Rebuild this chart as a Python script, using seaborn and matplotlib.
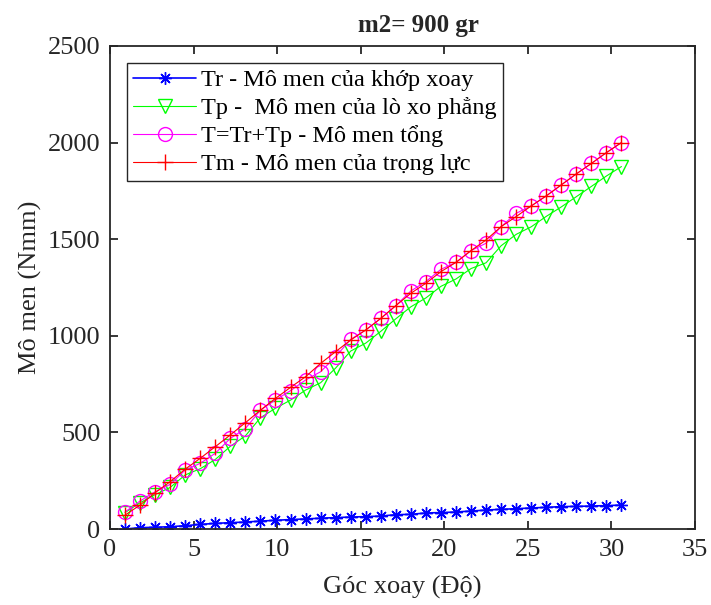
import matplotlib
matplotlib.use("Agg")
import matplotlib.pyplot as plt
import seaborn as sns
import pandas as pd

# Rotation angle (degrees)
goc = [0.9, 1.8, 2.7, 3.6, 4.5, 5.4, 6.3, 7.2, 8.1, 9.0,
       9.9, 10.8, 11.7, 12.6, 13.5, 14.4, 15.3, 16.2, 17.1, 18.0,
       18.9, 19.8, 20.7, 21.6, 22.5, 23.4, 24.3, 25.2, 26.1, 27.0,
       27.9, 28.8, 29.7, 30.6]

# Joint moment Tr (Nmm)
tr = [0, 7, 9, 12, 17, 24, 29, 33, 36, 41,
      45, 49, 52, 56, 59, 62, 64, 67, 74, 76,
      83, 85, 88, 93, 98, 102, 105, 109, 112, 116,
      117, 119, 121, 124]

# Flat spring moment Tp (Nmm)
tp = [85, 136, 178, 215, 280, 312, 360, 428, 482, 576,
      625, 667, 719, 757, 833, 921, 962, 1023, 1088, 1150,
      1196, 1256, 1294, 1348, 1378, 1466, 1525, 1564, 1618, 1667,
      1720, 1773, 1827, 1876]

# Total moment T = Tr + Tp (Nmm)
t_tong = [88, 145, 193, 231, 305, 340, 392, 469, 520, 615,
          668, 716, 771, 814, 892, 982, 1030, 1090, 1156, 1232,
          1281, 1344, 1380, 1441, 1479, 1565, 1634, 1672, 1724, 1781,
          1838, 1892, 1948, 2000]

# Gravity moment Tm (Nmm)
tm = [72, 124, 188, 245, 310, 366, 426, 487, 550, 615,
      676, 733, 788, 857, 918, 978, 1030, 1090, 1156, 1220,
      1272, 1332, 1380, 1441, 1496, 1565, 1617, 1672, 1724, 1781,
      1838, 1892, 1948, 2000]

labels = ["Tr - Mô men của khớp xoay",
          "Tp -  Mô men của lò xo phẳng",
          "T=Tr+Tp - Mô men tổng",
          "Tm - Mô men của trọng lực"]

sns.set_style("white")
plt.rcParams["font.family"] = ["Liberation Serif", "DejaVu Serif"]

fig = plt.figure(figsize=(7.11, 6.05), dpi=100)
ax = fig.add_axes([0.1547, 0.1256, 0.8228, 0.7984])

axis_col = (0.15, 0.15, 0.15)

series = [
    (tr, labels[0], (0, 0, 1), (8, 2, 0), 1.2, 9),
    (tp, labels[1], (0, 1, 0), "v", 0.8, 10),
    (t_tong, labels[2], (1, 0, 1), "o", 0.8, 10),
    (tm, labels[3], (1, 0, 0), "+", 0.8, 11),
]

for vals, lab, col, mk, lw, ms in series:
    df = pd.DataFrame({"x": goc, "y": vals})
    sns.lineplot(data=df, x="x", y="y", ax=ax, color=col, label=lab,
                 marker=mk, markersize=ms, markerfacecolor="none",
                 markeredgecolor=col, markeredgewidth=1.0, linewidth=lw)

ax.set_xlim(0, 35)
ax.set_ylim(0, 2500)
ax.set_xticks(range(0, 36, 5))
ax.set_yticks(range(0, 2501, 500))

ax.tick_params(direction="in", length=6, width=1.3, colors=axis_col,
               labelsize=19, labelcolor=axis_col, pad=7,
               top=True, right=True, bottom=True, left=True)
for s in ax.spines.values():
    s.set_color(axis_col)
    s.set_linewidth(1.3)

ax.set_xlabel("Góc xoay (Độ)", fontsize=19, color=axis_col, labelpad=11)
ax.set_ylabel("Mô men (Nmm)", fontsize=19, color=axis_col, labelpad=4)
ax.set_title("m2= 900 gr", fontsize=18, fontweight="bold", pad=10, x=0.527)

leg = ax.legend(loc="upper left", fontsize=17.5, frameon=True, fancybox=False,
                edgecolor=axis_col, framealpha=1, handlelength=2.6,
                borderaxespad=0.7, borderpad=0.25, labelspacing=0.25,
                handletextpad=0.2)
leg.get_frame().set_linewidth(1.0)
for txt in leg.get_texts():
    txt.set_color("black")

fig.savefig("out.png", dpi=100)
